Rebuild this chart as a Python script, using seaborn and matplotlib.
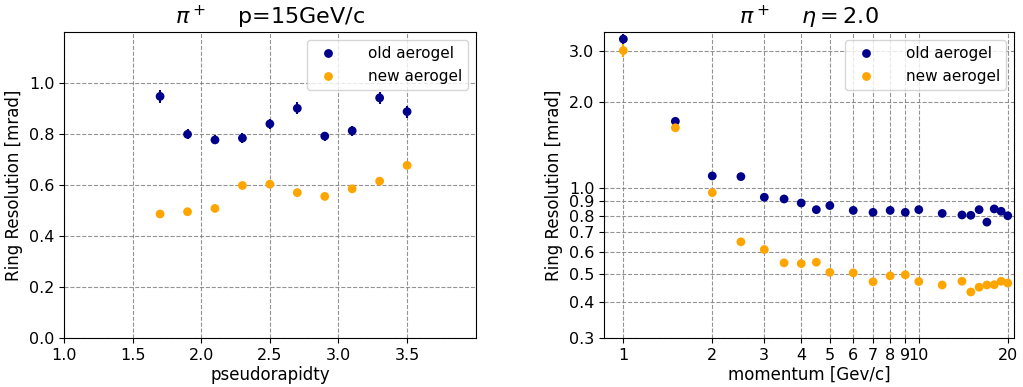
import numpy as np
import pandas as pd
import matplotlib
matplotlib.use("Agg")
import matplotlib.pyplot as plt
import matplotlib.ticker as mticker
import seaborn as sns

# === data: left panel, pi+ at p = 15 GeV/c ===
eta = [1.7, 1.9, 2.1, 2.3, 2.5, 2.7, 2.9, 3.1, 3.3, 3.5]
eta_old = [0.949, 0.800, 0.778, 0.785, 0.841, 0.902, 0.793, 0.814, 0.943, 0.889]
eta_old_err = [0.025, 0.020, 0.018, 0.020, 0.020, 0.024, 0.018, 0.020, 0.024, 0.024]
eta_new = [0.487, 0.496, 0.509, 0.599, 0.604, 0.571, 0.556, 0.586, 0.616, 0.678]
eta_new_err = [0.008, 0.008, 0.008, 0.008, 0.008, 0.008, 0.008, 0.008, 0.008, 0.008]

# === data: right panel, pi+ at eta = 2.0 ===
mom = [1, 1.5, 2, 2.5, 3, 3.5, 4, 4.5, 5, 6, 7, 8, 9, 10, 12, 14, 15, 16, 17, 18, 19, 20]
mom_old = [3.30, 1.706, 1.101, 1.095, 0.928, 0.915, 0.886, 0.840, 0.868, 0.835, 0.822,
           0.835, 0.822, 0.840, 0.815, 0.805, 0.803, 0.840, 0.760, 0.845, 0.829, 0.800]
mom_new = [3.01, 1.62, 0.963, 0.649, 0.610, 0.548, 0.545, 0.551, 0.508, 0.506, 0.471,
           0.494, 0.498, 0.472, 0.459, 0.473, 0.434, 0.451, 0.459, 0.460, 0.473, 0.466]
mom_old_err = [0.15, 0.04, 0.015, 0.015, 0.01, 0.01, 0.01, 0.01, 0.01, 0.01, 0.01,
               0.01, 0.01, 0.01, 0.01, 0.01, 0.01, 0.01, 0.01, 0.01, 0.01, 0.01]
mom_new_err = [0.15, 0.05, 0.01, 0.008, 0.008, 0.006, 0.006, 0.006, 0.006, 0.006, 0.006,
               0.006, 0.006, 0.006, 0.006, 0.006, 0.006, 0.006, 0.006, 0.006, 0.006, 0.006]

sns.set_style("ticks")
plt.rcParams["font.family"] = ["DejaVu Sans"]
# plain black text like the default matplotlib look
plt.rcParams.update({"text.color": "black", "axes.labelcolor": "black",
                     "xtick.color": "black", "ytick.color": "black",
                     "axes.edgecolor": "black"})

fig = plt.figure(figsize=(10.23, 3.87), dpi=100)
ax1 = fig.add_axes([0.0626, 0.1266, 0.4024, 0.7895])
ax2 = fig.add_axes([0.5904, 0.1266, 0.4008, 0.7895])

old_col = "darkblue"
new_col = "orange"


def draw(ax, x, y_old, e_old, y_new, e_new):
    df = pd.DataFrame({"x": list(x) * 2,
                       "y": list(y_old) + list(y_new),
                       "series": ["old aerogel"] * len(x) + ["new aerogel"] * len(x)})
    ax.errorbar(x, y_old, yerr=e_old, fmt="none", ecolor=old_col, elinewidth=1.5)
    ax.errorbar(x, y_new, yerr=e_new, fmt="none", ecolor=new_col, elinewidth=1.5)
    sns.scatterplot(data=df, x="x", y="y", hue="series",
                    palette={"old aerogel": old_col, "new aerogel": new_col},
                    s=40, edgecolor="none", ax=ax, zorder=3)
    ax.grid(True, linestyle="--", color="gray", alpha=0.85, linewidth=0.8)
    ax.legend(loc="upper right", fontsize=11, handletextpad=1.6)


# left panel
draw(ax1, eta, eta_old, eta_old_err, eta_new, eta_new_err)
ax1.set_xlim(1.0, 4.0)
ax1.set_ylim(0.0, 1.2)
ax1.set_xticks([1.0, 1.5, 2.0, 2.5, 3.0, 3.5])
ax1.set_yticks([0.0, 0.2, 0.4, 0.6, 0.8, 1.0])
ax1.xaxis.set_major_formatter(mticker.FormatStrFormatter("%.1f"))
ax1.yaxis.set_major_formatter(mticker.FormatStrFormatter("%.1f"))
ax1.set_xlabel("pseudorapidty", fontsize=12, labelpad=2)
ax1.set_ylabel("Ring Resolution [mrad]", fontsize=12)
ax1.set_title(r"$\pi^+$    p=15GeV/c", fontsize=16)
ax1.tick_params(labelsize=11.5)

# right panel
draw(ax2, mom, mom_old, mom_old_err, mom_new, mom_new_err)
ax2.set_xscale("log")
ax2.set_yscale("log")
ax2.set_xlim(0.86, 21.0)
ax2.set_ylim(0.3, 3.48)
xt = [1, 2, 3, 4, 5, 6, 7, 8, 9, 10, 20]
yt = [0.3, 0.4, 0.5, 0.6, 0.7, 0.8, 0.9, 1.0, 2.0, 3.0]
ax2.set_xticks(xt)
ax2.set_xticklabels([str(v) for v in xt])
ax2.set_yticks(yt)
ax2.set_yticklabels([f"{v:.1f}" for v in yt])
ax2.xaxis.set_minor_locator(mticker.NullLocator())
ax2.yaxis.set_minor_locator(mticker.NullLocator())
ax2.set_xlabel("momentum [Gev/c]", fontsize=12, labelpad=2)
ax2.set_ylabel("Ring Resolution [mrad]", fontsize=12)
ax2.set_title(r"$\pi^+$    $\eta = 2.0$", fontsize=16)
ax2.tick_params(labelsize=11.5)

fig.savefig("out.png", dpi=100)
